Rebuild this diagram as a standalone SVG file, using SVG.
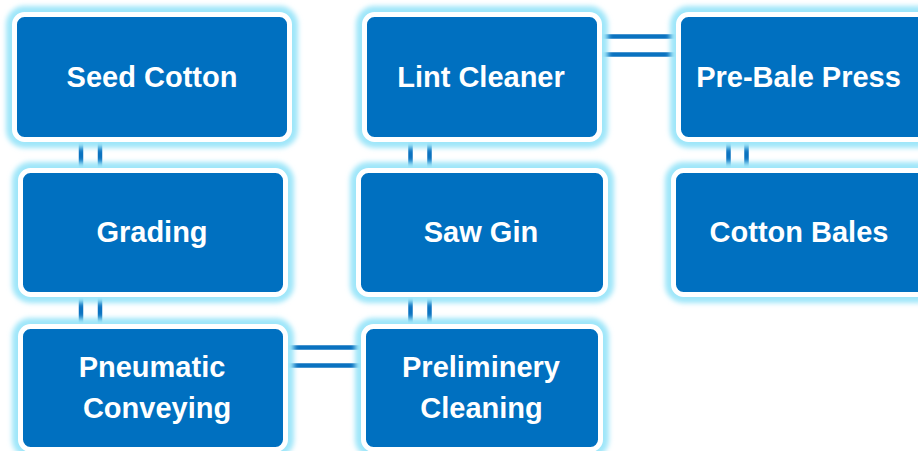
<svg xmlns="http://www.w3.org/2000/svg" width="918" height="451" viewBox="0 0 918 451">
  <style>
    .box { fill: #0070c0; stroke: #ffffff; stroke-width: 5; }
    .halo { fill: none; stroke: #9fe6f9; stroke-width: 17; filter: url(#soft); }
    .label { font-family: "Liberation Sans", Arial, sans-serif; font-weight: bold; font-size: 29px; fill: #ffffff; text-anchor: middle; }
    .link { stroke: #0a72c0; stroke-width: 4.5; fill: none; }
  </style>
  <defs>
    <filter id="soft" x="-10%" y="-20%" width="120%" height="140%">
      <feGaussianBlur stdDeviation="2.5"/>
    </filter>
  </defs>
  <rect width="918" height="451" fill="#ffffff"/>

  <!-- double-line connectors -->
  <g id="connectors">
    <!-- Seed Cotton - Grading -->
    <line class="link" x1="81" y1="137" x2="81" y2="173"/>
    <line class="link" x1="100" y1="137" x2="100" y2="173"/>
    <!-- Grading - Pneumatic Conveying -->
    <line class="link" x1="81" y1="292" x2="81" y2="329"/>
    <line class="link" x1="100" y1="292" x2="100" y2="329"/>
    <!-- Pneumatic Conveying - Preliminery Cleaning -->
    <line class="link" x1="283" y1="347.5" x2="366" y2="347.5"/>
    <line class="link" x1="283" y1="365.5" x2="366" y2="365.5"/>
    <!-- Preliminery Cleaning - Saw Gin -->
    <line class="link" x1="410.5" y1="292" x2="410.5" y2="329"/>
    <line class="link" x1="429.5" y1="292" x2="429.5" y2="329"/>
    <!-- Saw Gin - Lint Cleaner -->
    <line class="link" x1="410.5" y1="137" x2="410.5" y2="173"/>
    <line class="link" x1="429.5" y1="137" x2="429.5" y2="173"/>
    <!-- Lint Cleaner - Pre-Bale Press -->
    <line class="link" x1="597" y1="36.5" x2="681" y2="36.5"/>
    <line class="link" x1="597" y1="54.5" x2="681" y2="54.5"/>
    <!-- Pre-Bale Press - Cotton Bales -->
    <line class="link" x1="728.5" y1="137" x2="728.5" y2="173"/>
    <line class="link" x1="746.5" y1="137" x2="746.5" y2="173"/>
  </g>

  <g id="seed-cotton">
    <rect class="halo" x="14.5" y="14.5" width="275" height="125" rx="10"/>
    <rect class="box" x="14.5" y="14.5" width="275" height="125" rx="10"/>
    <text class="label" x="152" y="87">Seed Cotton</text>
  </g>

  <g id="lint-cleaner">
    <rect class="halo" x="364.5" y="14.5" width="235" height="125" rx="10"/>
    <rect class="box" x="364.5" y="14.5" width="235" height="125" rx="10"/>
    <text class="label" x="481" y="87">Lint Cleaner</text>
  </g>

  <g id="pre-bale-press">
    <rect class="halo" x="678.5" y="14.5" width="250" height="125" rx="10"/>
    <rect class="box" x="678.5" y="14.5" width="250" height="125" rx="10"/>
    <text class="label" x="798.5" y="87">Pre-Bale Press</text>
  </g>

  <g id="grading">
    <rect class="halo" x="20.5" y="170.5" width="265" height="124" rx="10"/>
    <rect class="box" x="20.5" y="170.5" width="265" height="124" rx="10"/>
    <text class="label" x="152" y="242">Grading</text>
  </g>

  <g id="saw-gin">
    <rect class="halo" x="358.5" y="170.5" width="247" height="124" rx="10"/>
    <rect class="box" x="358.5" y="170.5" width="247" height="124" rx="10"/>
    <text class="label" x="481" y="242">Saw Gin</text>
  </g>

  <g id="cotton-bales">
    <rect class="halo" x="673.5" y="170.5" width="255" height="124" rx="10"/>
    <rect class="box" x="673.5" y="170.5" width="255" height="124" rx="10"/>
    <text class="label" x="799" y="242">Cotton Bales</text>
  </g>

  <g id="pneumatic-conveying">
    <rect class="halo" x="20.5" y="326.5" width="265" height="123" rx="10"/>
    <rect class="box" x="20.5" y="326.5" width="265" height="123" rx="10"/>
    <text class="label" x="152" y="377">Pneumatic</text>
    <text class="label" x="157" y="418">Conveying</text>
  </g>

  <g id="preliminery-cleaning">
    <rect class="halo" x="363.5" y="326.5" width="237" height="123" rx="10"/>
    <rect class="box" x="363.5" y="326.5" width="237" height="123" rx="10"/>
    <text class="label" x="481" y="377">Preliminery</text>
    <text class="label" x="481.5" y="418">Cleaning</text>
  </g>
</svg>
